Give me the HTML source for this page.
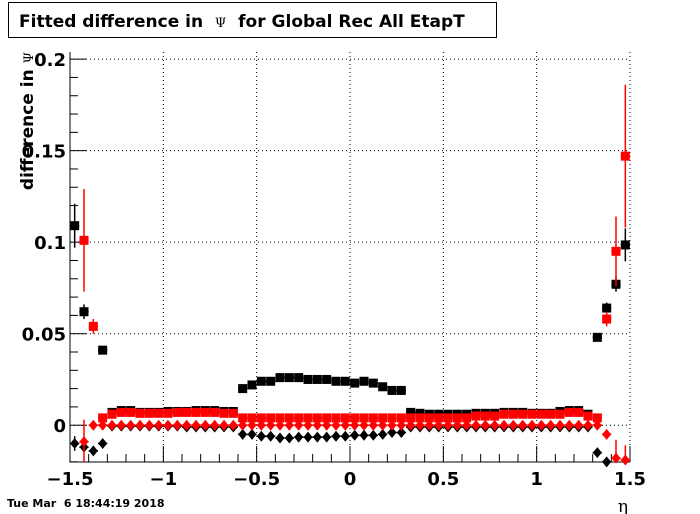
<!DOCTYPE html>
<html><head><meta charset="utf-8"><style>
body{margin:0;background:#fff;}
svg{display:block;font-family:"DejaVu Sans","Liberation Sans",sans-serif;}
text{white-space:pre;}
</style></head><body>
<svg id="c" width="700" height="514" viewBox="0 0 700 514">
<rect x="0" y="0" width="700" height="514" fill="#fff"/>
<g>
<rect x="8.5" y="2.5" width="488" height="35" fill="#fff" stroke="#000" stroke-width="1"/>
<text x="19" y="27" font-size="17" font-weight="bold" xml:space="preserve">Fitted difference in  <tspan font-weight="normal" font-family="DejaVu Serif,serif" font-size="13">Ψ</tspan>  for Global Rec All EtapT</text>
</g>
<g id="grid"></g>
<g id="axes"></g>
<g id="marks"></g>
<text transform="translate(33,52) rotate(-90)" text-anchor="end" font-size="17" font-weight="bold" xml:space="preserve">difference in <tspan font-weight="normal" font-family="DejaVu Serif,serif" font-size="13">Ψ</tspan></text>
<text x="623" y="512" font-size="17" font-family="DejaVu Serif,serif" text-anchor="middle">η</text>
<text x="7" y="507" font-size="11" font-weight="bold" xml:space="preserve">Tue Mar  6 18:44:19 2018</text>
</svg>
<script>
const xTicks=[-1.5,-1,-0.5,0,0.5,1,1.5];
const xTickLabels=["\u22121.5","\u22121","\u22120.5","0","0.5","1","1.5"];
const yTicks=[0,0.05,0.1,0.15,0.2];
const yTickLabels=["0","0.05","0.1","0.15","0.2"];
const etaCenters=[];for(let i=0;i<60;i++)etaCenters.push(+(-1.475+0.05*i).toFixed(3));
const blackSquares=[0.109,0.062,null,0.041,0.007,0.008,0.008,0.007,0.007,0.007,0.0075,0.0075,0.0075,0.008,0.008,0.008,0.0075,0.0075,0.020,0.022,0.024,0.024,0.026,0.026,0.026,0.025,0.025,0.025,0.024,0.024,0.023,0.024,0.023,0.021,0.019,0.019,0.007,0.0065,0.006,0.006,0.006,0.006,0.006,0.0065,0.0065,0.0065,0.007,0.007,0.007,0.0065,0.0065,0.0065,0.0075,0.008,0.008,0.006,0.048,0.064,0.077,0.0985];
const blackSquareErr=[0.012,0.004,0,0.002,0.001,0.001,0.001,0.001,0.001,0.001,0.001,0.001,0.001,0.001,0.001,0.001,0.001,0.001,0.001,0.001,0.001,0.001,0.001,0.001,0.001,0.001,0.001,0.001,0.001,0.001,0.001,0.001,0.001,0.001,0.001,0.001,0.001,0.001,0.001,0.001,0.001,0.001,0.001,0.001,0.001,0.001,0.001,0.001,0.001,0.001,0.001,0.001,0.001,0.001,0.001,0.001,0.002,0.003,0.004,0.009];
const redSquares=[null,0.101,0.054,0.004,0.006,0.007,0.007,0.0065,0.0065,0.0065,0.0065,0.007,0.007,0.007,0.007,0.007,0.0065,0.0065,0.004,0.004,0.004,0.004,0.004,0.004,0.004,0.004,0.004,0.004,0.004,0.004,0.004,0.004,0.004,0.004,0.004,0.004,0.004,0.004,0.004,0.004,0.004,0.004,0.004,0.005,0.005,0.005,0.006,0.006,0.006,0.006,0.006,0.006,0.006,0.007,0.007,0.005,0.004,0.058,0.095,0.147];
const redSquareErr=[0,0.028,0.004,0.001,0.001,0.001,0.001,0.001,0.001,0.001,0.001,0.001,0.001,0.001,0.001,0.001,0.001,0.001,0.001,0.001,0.001,0.001,0.001,0.001,0.001,0.001,0.001,0.001,0.001,0.001,0.001,0.001,0.001,0.001,0.001,0.001,0.001,0.001,0.001,0.001,0.001,0.001,0.001,0.001,0.001,0.001,0.001,0.001,0.001,0.001,0.001,0.001,0.001,0.001,0.001,0.001,0.001,0.004,0.019,0.039];
const blackDiamonds=[-0.010,-0.012,-0.014,-0.010,-0.0005,-0.0005,-0.0005,-0.0005,-0.0005,-0.0005,-0.0005,-0.0005,-0.001,-0.001,-0.001,-0.001,-0.001,-0.001,-0.005,-0.005,-0.006,-0.006,-0.007,-0.007,-0.0065,-0.0065,-0.0065,-0.0065,-0.006,-0.006,-0.0055,-0.0055,-0.0055,-0.005,-0.004,-0.004,-0.001,-0.001,-0.001,-0.001,-0.001,-0.001,-0.001,-0.001,-0.001,-0.001,-0.001,-0.001,-0.001,-0.001,-0.001,-0.001,-0.001,-0.001,-0.001,-0.001,-0.015,-0.020,null,null];
const blackDiamondErr=[0.004,0.002,0.001,0.001,0,0,0,0,0,0,0,0,0,0,0,0,0,0,0,0,0,0,0,0,0,0,0,0,0,0,0,0,0,0,0,0,0,0,0,0,0,0,0,0,0,0,0,0,0,0,0,0,0,0,0,0,0.001,0.001,0,0];
const redDiamonds=[null,-0.009,0,0,0,0,0,0,0,0,0,0,0,0,0,0,0,0,0,0,0,0,0,0,0,0,0,0,0,0,0,0,0,0,0,0,0,0,0,0,0,0,0,0,0,0,0,0,0,0,0,0,0,0,0,0,0,-0.005,-0.018,-0.019];
const redDiamondErr=[0,0.012,0,0,0,0,0,0,0,0,0,0,0,0,0,0,0,0,0,0,0,0,0,0,0,0,0,0,0,0,0,0,0,0,0,0,0,0,0,0,0,0,0,0,0,0,0,0,0,0,0,0,0,0,0,0,0,0.002,0.010,0.008];

const NS="http://www.w3.org/2000/svg";
const L=70,R=630,T=52,B=462,XMIN=-1.5,XMAX=1.5,YMIN=-0.0201,YMAX=0.2039;
const X=v=>L+(v-XMIN)/(XMAX-XMIN)*(R-L);
const Y=v=>B-(v-YMIN)/(YMAX-YMIN)*(B-T);
function mk(tag,attrs,parent){const e=document.createElementNS(NS,tag);for(const k in attrs)e.setAttribute(k,attrs[k]);parent.appendChild(e);return e;}
const grid=document.getElementById('grid'),axes=document.getElementById('axes'),marks=document.getElementById('marks');
xTicks.forEach(t=>{if(t>XMIN){const l=mk('line',{x1:X(t),x2:X(t),y1:T,y2:B,stroke:'#000','stroke-dasharray':'1,3','stroke-width':1},grid);

}});
yTicks.forEach(t=>{const l=mk('line',{x1:L,x2:R,y1:Y(t),y2:Y(t),stroke:'#000','stroke-dasharray':'1,3','stroke-width':1},grid);

});
const fr=mk('path',{d:`M${L},${T}V${B}H${R}`,fill:'none',stroke:'#000','stroke-width':1},axes);


for(let v=-1.5;v<=1.5001;v+=0.1){const major=Math.abs(v*2-Math.round(v*2))<1e-6;const l=mk('line',{x1:X(v),x2:X(v),y1:B,y2:B-(major?16:8),stroke:'#000'},axes);

}
for(let v=-0.02;v<=0.2001;v+=0.01){const major=Math.abs(v*20-Math.round(v*20))<1e-6;const l=mk('line',{x1:L,x2:L+(major?16:8),y1:Y(v),y2:Y(v),stroke:'#000'},axes);

}
xTicks.forEach((t,i)=>{const e=mk('text',{x:X(t),y:485,'text-anchor':'middle','font-size':18,'font-weight':'bold'},axes);e.textContent=xTickLabels[i];

});
yTicks.forEach((t,i)=>{const e=mk('text',{x:66,y:Y(t)+7,'text-anchor':'end','font-size':18,'font-weight':'bold'},axes);e.textContent=yTickLabels[i];

});
function series(vals,errs,color,shape,name){
 const g=mk('g',{},marks);
 
 
 vals.forEach((v,i)=>{if(v===null)return;const cx=X(etaCenters[i]),cy=Y(v);
  const hw=X(0.025)-X(0);
  const hb=mk('line',{x1:cx-hw,x2:cx+hw,y1:cy,y2:cy,stroke:color,'stroke-width':1.5},g);
  
  
  if(errs[i]>0){const y1=Math.max(T,Y(v+errs[i])),y2=Math.min(B,Y(v-errs[i]));const eb=mk('line',{x1:cx,x2:cx,y1:y1,y2:y2,stroke:color,'stroke-width':1.5},g);
  
  }
  let m;
  if(shape==='sq')m=mk('rect',{x:cx-4.5,y:cy-4.5,width:9,height:9,fill:color},g);
  else m=mk('path',{d:`M${cx},${cy-5.5}L${cx+4.5},${cy}L${cx},${cy+5.5}L${cx-4.5},${cy}Z`,fill:color},g);
  
  
 });
}
series(blackDiamonds,blackDiamondErr,'#000','dia','black-diamond-series');
series(redDiamonds,redDiamondErr,'#f00','dia','red-diamond-series');
series(blackSquares,blackSquareErr,'#000','sq','black-square-series');
series(redSquares,redSquareErr,'#f00','sq','red-square-series');
</script>
</body></html>
